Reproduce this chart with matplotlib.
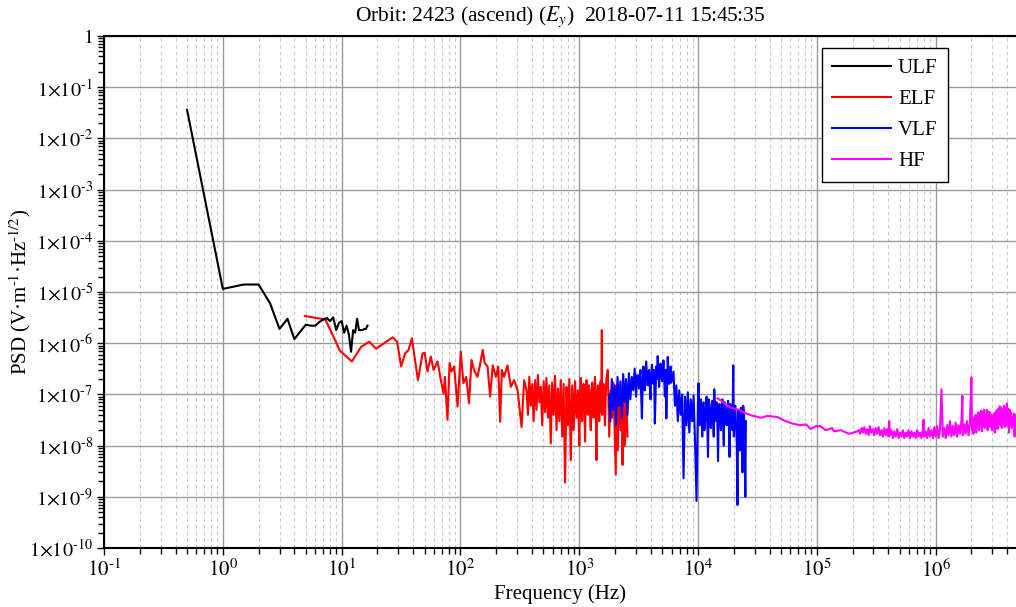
import numpy as np
import matplotlib
matplotlib.use("Agg")
import matplotlib.pyplot as plt
from matplotlib.ticker import FixedLocator, FuncFormatter, NullFormatter

plt.rcParams['font.family'] = ['Liberation Serif', 'DejaVu Serif']
plt.rcParams['mathtext.fontset'] = 'stix'

title = r'Orbit: 2423 (ascend) ($E_y$)  2018-07-11 15:45:35'

# ULF band
ulf_freq = [0.5, 1.0, 1.5, 2.0, 2.5, 3.0, 3.5, 4.0, 4.5, 5.0, 5.5, 6.0, 6.5, 7.0,
            7.5, 8.0, 8.5, 9.0, 9.5, 10.0, 10.5, 11.0, 11.5, 12.0, 12.5, 13.0,
            13.5, 14.0, 14.5, 15.0, 15.5, 16.0, 16.5]
ulf_psd = [3.6e-2, 1.15e-5, 1.4e-5, 1.4e-5, 6.0e-6, 1.9e-6, 3.0e-6, 1.2e-6, 1.7e-6,
           2.3e-6, 2.2e-6, 2.2e-6, 2.6e-6, 2.9e-6, 3.1e-6, 2.7e-6, 3.2e-6, 1.8e-6,
           2.5e-6, 2.7e-6, 1.6e-6, 2.2e-6, 1.5e-6, 6.8e-7, 1.8e-6, 1.6e-6, 3.0e-6,
           1.8e-6, 1.8e-6, 1.8e-6, 1.9e-6, 1.9e-6, 2.2e-6]

# ELF band
elf_freq = [4.9, 7.3, 9.7, 12.2, 14.6, 17.1, 19.5, 26.9, 29.3, 31.7, 34.2, 36.6,
            39.0, 43.9, 48.0, 50.0, 52.8, 56.4, 59.4, 64.2, 68.4, 72.1, 74.0, 77.8,
            81.0, 84.0, 88.5, 94.6, 100.7, 106, 112, 118, 124, 130, 139, 146, 154,
            160, 169, 178, 187, 199, 208, 216, 223, 233, 249, 266, 283, 303, 327,
            344, 360, 370, 380, 391, 402, 413, 425, 437, 449, 462, 475, 488, 502,
            516, 530, 545, 560, 576, 592, 609, 626, 644, 662, 680, 699, 719, 739,
            760, 781, 803, 826, 849, 873, 897, 922, 948, 975, 1002, 1030, 1059,
            1089, 1120, 1151, 1183, 1216, 1250, 1285, 1321, 1358, 1396, 1435,
            1475, 1516, 1550, 1559, 1602, 1647, 1693, 1740, 1789, 1839, 1890,
            1943, 1997, 2030, 2053, 2110, 2169, 2230, 2292, 2313, 2356, 2422,
            2490, 2550,
            1016, 1045, 1074, 1105, 1135, 1167, 1200, 1233, 1268, 1303, 1340,
            1377, 1415, 1455, 1495, 1533, 1580, 1625, 1670]
elf_psd = [3.4e-6, 2.9e-6, 7.1e-7, 4.4e-7, 8.5e-7, 1.07e-6, 7.8e-7, 1.3e-6, 1.07e-6,
           3.5e-7, 6.3e-7, 7.4e-7, 1.25e-6, 1.9e-7, 6.3e-7, 6.5e-7, 2.8e-7, 5.5e-7,
           3.0e-7, 4.4e-7, 1.9e-7, 1.05e-7, 2.2e-7, 3.2e-8, 4.1e-7, 2.8e-7, 3.5e-7,
           5.8e-8, 6.8e-7, 1.65e-7, 2.2e-7, 6.7e-8, 4.7e-7, 3.0e-7, 2.2e-7, 3.7e-7,
           7.4e-7, 4.1e-7, 3.5e-7, 9.1e-8, 3.7e-7, 2.2e-7, 3.5e-7, 2.9e-8, 3.0e-7,
           2.2e-7, 3.7e-7, 1.4e-7, 1.9e-7, 1.2e-7, 2.3e-8, 1.9e-7,
           1.2e-7, 4.0e-8, 2.2e-7, 6.0e-8, 1.6e-7, 3.0e-8, 1.9e-7, 5.0e-8, 2.4e-7,
           7.0e-8, 1.4e-7, 2.5e-8, 1.8e-7, 4.5e-8, 2.1e-7, 3.5e-8, 1.5e-7, 1.1e-8,
           1.7e-7, 4.0e-8, 2.3e-7, 2.0e-8, 1.3e-7, 3.0e-8, 1.9e-7, 1.5e-8, 1.6e-7,
           1.9e-9, 1.4e-7, 2.5e-8, 2.0e-7, 5.2e-9, 1.5e-7, 2.0e-8, 1.8e-7, 3.5e-8,
           1.2e-7, 1.0e-8, 2.1e-7, 3.0e-8, 1.6e-7, 1.2e-8, 1.9e-7, 4.0e-8, 1.3e-7,
           2.0e-8, 1.7e-7, 3.5e-8, 2.2e-7, 5.2e-9, 1.5e-7, 3.0e-8, 1.8e-7, 1.8e-6,
           4.0e-8, 1.6e-7, 2.5e-8, 2.0e-7, 3.0e-7, 1.5e-8, 1.2e-7, 3.5e-8, 1.7e-7,
           1.2e-8, 2.7e-9, 1.5e-7, 8.0e-9, 1.3e-7, 2.0e-8, 1.1e-7, 4.2e-9, 1.2e-7,
           1.0e-8, 9.0e-8, 1.5e-8,
           9.0e-8, 5.0e-8, 1.1e-7, 6.0e-8, 9.0e-8, 5.0e-8, 1.5e-7, 4.5e-8, 1.0e-7,
           6.0e-8, 1.2e-7, 5.0e-8, 9.0e-8, 6.5e-8, 1.3e-7, 4.5e-8, 1.1e-7, 5.0e-8,
           9.0e-8]

# VLF band
vlf_freq = [1780, 1830, 1880, 1930, 1985, 2040, 2100, 2160, 2220, 2280, 2345, 2410,
            2480, 2550, 2620, 2695, 2770, 2850, 2930, 3010, 3100, 3185, 3275, 3370,
            3465, 3560, 3660, 3765, 3870, 3980, 4095, 4210, 4330, 4450, 4575, 4705,
            4840, 4975, 5115, 5260, 5410, 5560, 5720, 5880, 6045, 6215, 6390, 6570,
            6760, 6950, 7145, 7350, 7555, 7770, 7990, 8215, 8445, 8685, 8930, 9180,
            9440, 9710, 9985, 10100, 10265, 10555, 10855, 11160, 11475, 11800,
            12135, 12475, 12830, 13190, 13560, 13700, 13945, 14340, 14745, 15160,
            15590, 16030, 16480, 16945, 17425, 17915, 18420, 18940, 19475, 19800,
            20025, 20590, 21170, 21500, 21770, 22385, 23015, 23665, 24335, 25020,
            25300,
            3050, 3230, 3420, 3610, 3815, 4035, 4270, 4510, 4770, 5045, 5335, 5640,
            5960, 10400, 10700, 11000, 11300, 11650, 11950, 12300, 12650, 13000,
            13380, 14150, 14550, 14950, 15380, 15800, 16250, 16700, 17180, 17670,
            18170, 18680, 19200, 20300, 20880, 22080, 22700, 23340, 24000, 24680]
vlf_psd = [1.0e-7, 3.0e-8, 2.0e-7, 5.0e-8, 1.5e-7, 2.5e-8, 2.2e-7, 6.0e-8, 1.8e-7,
           3.5e-8, 2.5e-7, 7.0e-8, 2.0e-7, 4.0e-8, 2.6e-7, 8.0e-8, 2.2e-7, 1.2e-7,
           3.2e-7, 9.0e-8, 2.4e-7, 1.3e-7, 3.0e-7, 3.4e-8, 3.5e-7, 1.2e-7, 4.4e-7,
           1.5e-7, 3.0e-7, 8.0e-8, 3.8e-7, 1.6e-7, 2.7e-8, 3.5e-7, 5.6e-7, 1.4e-7,
           4.0e-7, 1.8e-7, 4.6e-7, 9.0e-8, 3.4e-8, 5.4e-7, 1.6e-7, 3.5e-7, 2.0e-7,
           2.8e-7, 6.0e-8, 1.5e-7, 3.0e-8, 1.2e-7, 4.0e-8, 1.0e-7, 2.3e-9, 9.0e-8,
           2.5e-8, 1.1e-7, 1.8e-8, 8.0e-8, 3.0e-8, 9.5e-8, 1.2e-8, 8.3e-10, 7.0e-8,
           1.65e-7, 2.5e-8, 8.0e-8, 1.5e-8, 7.0e-8, 3.0e-8, 9.0e-8, 6.0e-9, 6.5e-8,
           2.2e-8, 7.5e-8, 1.5e-8, 1.26e-7, 3.0e-8, 7.0e-8, 5.0e-9, 6.5e-8, 2.0e-8,
           8.0e-8, 1.0e-8, 6.0e-8, 2.5e-8, 7.5e-8, 6.0e-9, 5.5e-8, 2.0e-8, 3.7e-7,
           1.5e-8, 6.0e-8, 1.2e-8, 6.9e-10, 5.0e-8, 8.0e-9, 5.5e-8, 3.0e-9, 4.5e-8,
           1.0e-9, 3.0e-8,
           1.8e-7, 2.0e-7, 1.6e-7, 2.8e-7, 2.2e-7, 2.5e-7, 3.0e-7, 2.0e-7, 2.8e-7,
           2.4e-7, 3.0e-7, 2.5e-7, 1.7e-7, 5.5e-8, 3.5e-8, 6.5e-8, 2.0e-8, 5.0e-8,
           3.5e-8, 8.0e-8, 3.0e-8, 5.0e-8, 4.0e-8, 4.5e-8, 3.0e-8, 5.5e-8, 3.5e-8,
           4.5e-8, 3.0e-8, 7.0e-8, 3.5e-8, 4.0e-8, 3.0e-8, 6.5e-8, 3.5e-8, 4.5e-8,
           2.5e-8, 3.5e-8, 4.5e-8, 2.0e-8, 6.0e-8, 1.5e-8]

# HF band (frequencies in kHz)
hf_freq_khz = [14.6, 16.5, 18.5, 20.1, 22.2, 25, 28, 30.7, 33.8, 38.5, 46.7, 53,
               62, 73, 81, 89, 98, 107, 119, 134, 140, 159, 187, 204, 220,
               225, 231, 238, 244, 251, 258, 265, 273, 280, 288, 296, 305, 313,
               322, 331, 340, 350, 360, 370, 380, 391, 402, 406, 413, 425, 437,
               449, 462, 475, 488, 502, 516, 530, 545, 560, 576, 592, 609, 626,
               644, 662, 680, 699, 719, 739, 760, 781, 790, 803, 826, 849, 873,
               897, 922, 948, 975, 1002, 1030, 1059, 1089, 1120, 1151, 1183,
               1216, 1250, 1285, 1321, 1358, 1396, 1435, 1475, 1516, 1559, 1602,
               1647, 1680, 1693, 1740, 1789, 1839, 1890, 1943, 2000, 2025, 2053,
               2080, 2110, 2140, 2169, 2200, 2230, 2260, 2292, 2325, 2356, 2390,
               2422, 2455, 2490, 2525, 2560, 2595, 2630, 2665, 2700, 2740, 2780,
               2820, 2860, 2900, 2940, 2980, 3020, 3060, 3100, 3145, 3190, 3235,
               3280, 3325, 3370, 3415, 3460, 3510, 3560, 3610, 3660, 3710, 3760,
               3815, 3870, 3925, 3980, 4035, 4090, 4145, 4200, 4260, 4320, 4380,
               4440, 4500, 4560, 4625, 4690, 4745, 4800]
hf_psd = [8.4e-8, 6.8e-8, 5.6e-8, 5.3e-8, 5.0e-8, 4.3e-8, 3.9e-8, 3.7e-8, 3.5e-8,
          3.8e-8, 3.6e-8, 3.1e-8, 2.7e-8, 2.5e-8, 2.6e-8, 2.1e-8, 2.4e-8, 2.4e-8,
          2.0e-8, 2.2e-8, 1.9e-8, 2.0e-8, 1.7e-8, 1.8e-8, 1.9e-8,
          2.0e-8, 1.7e-8, 2.2e-8, 1.8e-8, 2.3e-8, 1.7e-8, 2.1e-8, 1.6e-8, 2.4e-8,
          1.8e-8, 2.1e-8, 1.6e-8, 2.2e-8, 1.7e-8, 2.3e-8, 1.6e-8, 2.0e-8, 1.5e-8,
          2.2e-8, 1.6e-8, 2.1e-8, 1.5e-8, 3.0e-8, 1.6e-8, 2.0e-8, 1.4e-8, 1.9e-8,
          1.5e-8, 2.1e-8, 1.4e-8, 1.8e-8, 1.5e-8, 2.0e-8, 1.4e-8, 1.8e-8, 1.5e-8,
          2.0e-8, 1.4e-8, 1.9e-8, 1.5e-8, 1.8e-8, 1.4e-8, 2.0e-8, 1.5e-8, 1.8e-8,
          1.4e-8, 2.0e-8, 3.2e-8, 1.5e-8, 1.9e-8, 1.4e-8, 2.2e-8, 1.5e-8, 2.0e-8,
          1.4e-8, 2.3e-8, 1.5e-8, 2.4e-8, 1.4e-8, 2.1e-8, 1.26e-7, 1.5e-8, 2.2e-8,
          1.4e-8, 2.5e-8, 1.6e-8, 3.0e-8, 1.5e-8, 2.4e-8, 1.6e-8, 2.8e-8, 1.5e-8,
          2.5e-8, 1.7e-8, 2.9e-8, 9.3e-8, 1.6e-8, 2.6e-8, 1.7e-8, 3.0e-8, 1.6e-8,
          2.7e-8, 2.15e-7, 2.0e-8, 3.0e-8,
          1.7e-8, 3.5e-8, 2.2e-8, 4.0e-8, 1.8e-8, 3.8e-8, 2.5e-8, 4.5e-8, 2.0e-8,
          4.2e-8, 2.6e-8, 4.8e-8, 1.9e-8, 4.5e-8, 2.4e-8, 5.0e-8, 2.2e-8, 4.0e-8,
          2.8e-8, 5.0e-8, 2.0e-8, 4.6e-8, 2.6e-8, 4.5e-8, 2.3e-8, 4.0e-8, 2.0e-8,
          3.8e-8, 2.4e-8, 4.2e-8, 1.8e-8, 4.5e-8, 2.6e-8, 5.0e-8, 2.1e-8, 5.2e-8,
          3.0e-8, 5.8e-8, 2.5e-8, 5.5e-8, 2.2e-8, 4.8e-8, 3.0e-8, 6.0e-8, 2.3e-8,
          5.5e-8, 3.2e-8, 6.7e-8, 2.4e-8, 5.2e-8, 1.8e-8, 5.0e-8, 2.6e-8, 4.4e-8,
          2.2e-8, 3.5e-8, 2.6e-8, 4.2e-8, 1.5e-8, 4.0e-8, 2.0e-8, 1.6e-8]

x_min, x_max = 0.1, 4.75e6
y_min, y_max = 1e-10, 1.0
x_decades = range(-1, 7)
y_decades = range(-10, 1)


def sorted_series(freq, psd):
    order = np.argsort(freq)
    return np.asarray(freq)[order], np.asarray(psd)[order]


def y_fmt(v, pos):
    e = int(round(np.log10(v)))
    if e == 0:
        return r'$1$'
    return r'$1{\times}10^{\text{-}%d}$' % abs(e)


def x_fmt(v, pos):
    e = int(round(np.log10(v)))
    if e < 0:
        return r'$10^{\text{-}%d}$' % abs(e)
    return r'$10^{%d}$' % e


elf_f, elf_p = sorted_series(elf_freq, elf_psd)
vlf_f, vlf_p = sorted_series(vlf_freq, vlf_psd)
hf_f, hf_p = sorted_series(np.array(hf_freq_khz) * 1e3, hf_psd)

fig = plt.figure(figsize=(10.16, 6.07), dpi=100)
ax = fig.add_axes([0.1024, 0.0972, 0.8976, 0.8435])

lw = 1.5
ax.plot(ulf_freq, ulf_psd, color='black', lw=lw, label='ULF', zorder=5)
ax.plot(elf_f, elf_p, color='#ff0000', lw=lw, label='ELF', zorder=3)
ax.plot(vlf_f, vlf_p, color='#0000ff', lw=lw, label='VLF', zorder=4)
ax.plot(hf_f, hf_p, color='#ff00ff', lw=lw, label='HF', zorder=4)

ax.set_xscale('log')
ax.set_yscale('log')
ax.set_xlim(x_min, x_max)
ax.set_ylim(y_min, y_max)

x_major = [10.0 ** e for e in x_decades]
y_major = [10.0 ** e for e in y_decades]
x_minor = [m * 10.0 ** e for e in x_decades for m in range(2, 10)
           if m * 10.0 ** e < x_max]
y_minor = [m * 10.0 ** e for e in y_decades[:-1] for m in range(2, 10)]
ax.xaxis.set_major_locator(FixedLocator(x_major))
ax.xaxis.set_minor_locator(FixedLocator(x_minor))
ax.yaxis.set_major_locator(FixedLocator(y_major))
ax.yaxis.set_minor_locator(FixedLocator(y_minor))
ax.xaxis.set_major_formatter(FuncFormatter(x_fmt))
ax.yaxis.set_major_formatter(FuncFormatter(y_fmt))
ax.xaxis.set_minor_formatter(NullFormatter())
ax.yaxis.set_minor_formatter(NullFormatter())

ax.tick_params(axis='both', which='major', direction='out', length=5, width=1,
               labelsize=15, pad=3)
ax.tick_params(axis='y', which='major', labelsize=14.5)
ax.tick_params(axis='both', which='minor', direction='out', length=4, width=1)

ax.grid(True, which='major', color='#999999', lw=1.0, ls='-')
ax.grid(True, which='minor', axis='x', color='#c8c8c8', lw=0.8, ls=(0, (3, 3)))
ax.set_axisbelow(True)

for side in ['left', 'bottom', 'top']:
    ax.spines[side].set_linewidth(1.5)
    ax.spines[side].set_color('black')
ax.spines['right'].set_visible(False)

ax.set_xlabel('Frequency (Hz)', fontsize=15, labelpad=2)
ax.set_ylabel('PSD (V\u00b7m$^{\\text{-}1}$\u00b7Hz$^{\\text{-}1/2}$)', fontsize=15)
ax.yaxis.set_label_coords(-0.078, 0.5)
ax.set_title(title, fontsize=15.5, pad=11)

leg = ax.legend(loc='upper right', bbox_to_anchor=(0.9254, 0.9766),
                borderaxespad=0, fontsize=15, frameon=True, fancybox=False,
                edgecolor='black', framealpha=1, handlelength=2.8,
                handletextpad=0.35, labelspacing=0.55, borderpad=0.5)
leg.get_frame().set_linewidth(1.0)

fig.savefig('out.png', dpi=100)
